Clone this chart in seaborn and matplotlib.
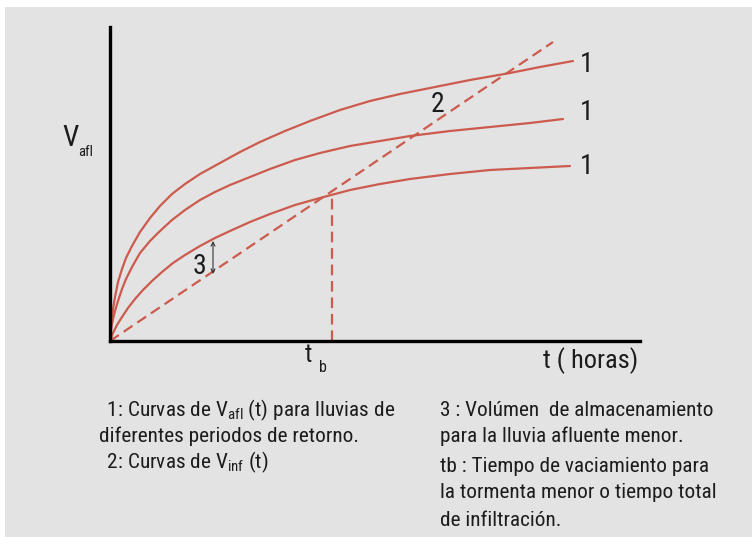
import numpy as np
import pandas as pd
import matplotlib
matplotlib.use("Agg")
import matplotlib.pyplot as plt
from matplotlib.patches import Rectangle
from matplotlib import font_manager as fm
import seaborn as sns

# ---- data (t, V in diagram units) ----
t_top = [0, 1, 2, 3.5, 5, 8, 12, 16, 22, 30, 40, 50, 62, 75, 90, 110, 130,
         150, 175, 200, 230, 260, 290, 320, 360, 400, 430, 463]
v_top = [0, 16, 25, 35, 44, 59, 72, 83, 95, 109, 123, 135, 147, 157, 167,
         178, 189, 199, 210, 220, 231, 240, 247, 253, 261, 268, 274, 280]
t_mid = [0, 1, 2, 3.5, 5, 8, 12, 16, 22, 30, 40, 50, 62, 75, 90, 105, 120,
         140, 160, 185, 210, 240, 270, 300, 340, 380, 420, 453]
v_mid = [0, 10, 17, 24, 30, 40, 52, 62, 74, 88, 100, 110, 121, 131, 141,
         149, 156, 164, 172, 181, 188, 195, 200, 205, 210, 214, 218, 222]
t_low = [0, 1.5, 3, 7, 12, 18, 25, 33, 42, 52, 63, 75, 90, 105, 120, 140,
         160, 185, 210, 240, 270, 300, 340, 380, 420, 460]
v_low = [0, 4, 8, 16, 24, 33, 42, 51, 60, 69, 78, 86, 95, 103, 110, 119,
         127, 136, 143, 151, 157, 162, 167, 171, 173, 175]
t_inf = [0, 443]
v_inf = [0, 299]
t_b = 222
v_b = 147

RED = "#cc5b4e"
BG = "#e3e3e3"
TXT = "#1c1c1c"

sns.set_theme(style="white")
fam = "Liberation Sans"
for cand in ["Liberation Sans Narrow", "Roboto Condensed", "Liberation Sans"]:
    try:
        fm.findfont(cand, fallback_to_default=False)
        fam = cand
        break
    except Exception:
        pass
plt.rcParams["font.family"] = [fam, "DejaVu Sans"]
plt.rcParams["mathtext.default"] = "regular"
plt.rcParams["mathtext.fontset"] = "custom"
plt.rcParams["mathtext.rm"] = fam
plt.rcParams["mathtext.it"] = fam

W, H = 752, 544
fig = plt.figure(figsize=(W / 100, H / 100), dpi=100)
fig.patch.set_facecolor("white")
fig.add_artist(Rectangle((5 / W, 7 / H), (W - 5) / W, (H - 14) / H,
                         transform=fig.transFigure, facecolor=BG,
                         edgecolor="none", zorder=-10))

ox, oy = 110, 341
xmax, ymax = 530, 314
ax = fig.add_axes([ox / W, (H - oy) / H, xmax / W, ymax / H])
ax.set_facecolor("none")

df = pd.concat([
    pd.DataFrame({"t": t_top, "V": v_top, "curva": "a"}),
    pd.DataFrame({"t": t_mid, "V": v_mid, "curva": "b"}),
    pd.DataFrame({"t": t_low, "V": v_low, "curva": "c"}),
])
sns.lineplot(data=df, x="t", y="V", hue="curva", palette=[RED] * 3,
             estimator=None, sort=False, legend=False, lw=1.6, ax=ax)
sns.lineplot(x=t_inf, y=v_inf, color=RED, lw=1.6, ax=ax,
             estimator=None, sort=False,
             linestyle=(0, (4.8, 2.6)))
ax.plot([t_b, t_b], [0, v_b], color=RED, lw=1.6, linestyle=(0, (4.8, 2.6)))

ax.set_xlim(0, xmax)
ax.set_ylim(0, ymax)
ax.set_xticks([])
ax.set_yticks([])
ax.set_xlabel("")
ax.set_ylabel("")
for s in ["top", "right"]:
    ax.spines[s].set_visible(False)
for s in ["left", "bottom"]:
    ax.spines[s].set_color("black")
    ax.spines[s].set_linewidth(2.4)

# storage arrow (3)
ax.annotate("", xy=(103, 100), xytext=(103, 67),
            arrowprops=dict(arrowstyle="<->", color="#333333", lw=0.8,
                            mutation_scale=7, shrinkA=0, shrinkB=0))
ax.text(89, 74, "3", fontsize=20, color=TXT, ha="center", va="center")
ax.text(328, 236, "2", fontsize=20, color=TXT, ha="center", va="center")
for v in [276, 228, 175]:
    ax.text(477, v, "1", fontsize=20, color=TXT, ha="center", va="center")


def ftext(x, y, s, **kw):
    fig.text(x / W, 1 - y / H, s, color=TXT, **kw)


ftext(62, 138, "V", fontsize=21, ha="left", va="center")
ftext(78, 152, "afl", fontsize=10.5, ha="left", va="center")
ftext(305, 355, "t", fontsize=18, ha="left", va="center")
ftext(319, 367, "b", fontsize=11.5, ha="left", va="center")
ftext(543, 361, "t ( horas)", fontsize=19, ha="left", va="center")

fs = 15.3
ftext(102, 410, r" 1: Curvas de $V_{afl}$ (t) para lluvias de", fontsize=fs, ha="left", va="center")
ftext(99, 436, "diferentes periodos de retorno.", fontsize=fs, ha="left", va="center")
ftext(102, 462, r" 2: Curvas de $V_{inf}$ (t)", fontsize=fs, ha="left", va="center")
ftext(440, 410, "3 : Volúmen  de almacenamiento", fontsize=fs, ha="left", va="center")
ftext(440, 436, "para la lluvia afluente menor.", fontsize=fs, ha="left", va="center")
ftext(440, 467, "tb : Tiempo de vaciamiento para", fontsize=fs, ha="left", va="center")
ftext(440, 493, "la tormenta menor o tiempo total", fontsize=fs, ha="left", va="center")
ftext(440, 520, "de infiltración.", fontsize=fs, ha="left", va="center")

fig.savefig("out.png", dpi=100, facecolor=fig.get_facecolor())
